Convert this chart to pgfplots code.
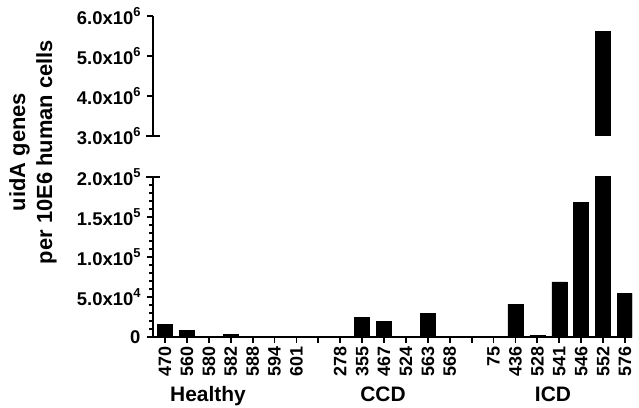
\documentclass[border=0pt]{standalone}
\usepackage{pgfplots}
\pgfplotsset{compat=1.18}
\usepackage{pgfplotstable}
\usepackage{fontspec}
\setmainfont{Liberation Sans}
\newcommand{\sx}[1]{\raisebox{0.45em}{\fontsize{13}{13}\selectfont #1}}
\pgfplotstableread{
x y
0 15500
1 8000
2 0
3 3000
4 0
5 0
6 0
8 0
9 25000
10 20000
11 0
12 29500
13 0
15 0
16 41000
17 2000
18 69000
19 168000
20 5630000
21 54500
}\datatab
\begin{document}
\begin{tikzpicture}
\useasboundingbox (-153bp,-71bp) rectangle (486bp,337bp);
\pgfplotsset{
  common/.style={
    scale only axis, width=479bp,
    xmin=-0.55, xmax=21.32,
    ybar, bar width=15bp,
    axis line style={line width=2.2bp},
    tick style={line width=1.8bp, black},
    major tick length=6bp, minor tick length=3.5bp,
    tick align=outside,
    yticklabel style={font=\fontsize{18.5}{18.5}\selectfont\bfseries, xshift=-3bp},
    xticklabel style={font=\fontsize{18}{18}\selectfont\bfseries, rotate=90, anchor=east},
  }
}
\begin{axis}[common, height=160bp,
  ymin=0, ymax=200000,
  axis x line*=bottom, axis y line*=left,
  xtick={0,...,21},
  xticklabels={470,560,580,582,588,594,601,,278,355,467,524,563,568,,75,436,528,541,546,552,576},
  ytick={0,50000,100000,150000,200000},
  yticklabels={0,5.0x10\sx{4},1.0x10\sx{5},1.5x10\sx{5},2.0x10\sx{5}},
  scaled y ticks=false,
  minor y tick num=4,
  extra y ticks={200000}, extra y tick labels={},
  extra y tick style={major tick length=14bp, tick align=center},
  clip=true,
]
\addplot[fill=black, draw=black, line width=0.4bp] table[x=x,y=y] {\datatab};
\end{axis}
\begin{axis}[common, at={(0,201bp)}, height=120bp,
  ymin=3000000, ymax=6000000,
  axis x line=none, axis y line*=left,
  ytick={3000000,4000000,5000000,6000000},
  yticklabels={3.0x10\sx{6},4.0x10\sx{6},5.0x10\sx{6},6.0x10\sx{6}},
  scaled y ticks=false,
  extra y ticks={3000000}, extra y tick labels={},
  extra y tick style={major tick length=14bp, tick align=center},
]
\addplot[fill=black, draw=black, line width=0.4bp] coordinates {(20,5630000)};
\end{axis}
\node[font=\fontsize{21}{21}\selectfont\bfseries, anchor=base] at (55bp,-64bp) {Healthy};
\node[font=\fontsize{21}{21}\selectfont\bfseries, anchor=base] at (230bp,-64bp) {CCD};
\node[font=\fontsize{21}{21}\selectfont\bfseries, anchor=base] at (400bp,-64bp) {ICD};
\node[font=\fontsize{22}{27}\selectfont\bfseries, rotate=90, align=center] at (-120bp,185bp) {uidA genes\\per 10E6 human cells};
\end{tikzpicture}
\end{document}
